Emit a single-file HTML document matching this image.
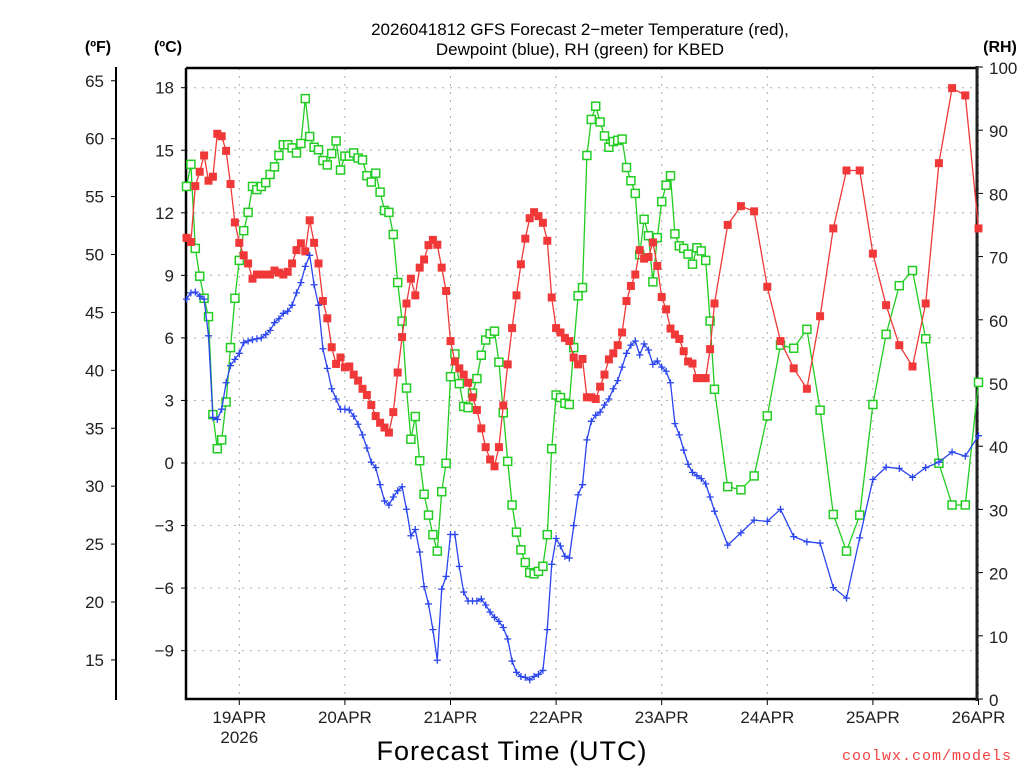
<!DOCTYPE html>
<html><head><meta charset="utf-8"><style>
html,body{margin:0;padding:0;background:#fff;}
svg{display:block;font-family:"Liberation Sans","DejaVu Sans",sans-serif;}
</style></head><body>
<svg id="chart" width="1024" height="768" viewBox="0 0 1024 768" xmlns="http://www.w3.org/2000/svg">
<rect width="1024" height="768" fill="#fff"/>
<text x="580" y="35" font-size="17" text-anchor="middle" fill="#000">2026041812 GFS Forecast 2−meter Temperature (red),</text>
<text x="580" y="55" font-size="17" text-anchor="middle" fill="#000">Dewpoint (blue), RH (green) for KBED</text>
<text x="98" y="52" font-size="16" font-weight="bold" text-anchor="middle">(ºF)</text>
<text x="168" y="52" font-size="16" font-weight="bold" text-anchor="middle">(ºC)</text>
<text x="1000" y="52" font-size="16" font-weight="bold" text-anchor="middle">(RH)</text>
<text x="512" y="760" font-size="27" text-anchor="middle" letter-spacing="1">Forecast Time (UTC)</text>
<text x="1012" y="760" font-size="15" text-anchor="end" fill="#f04040" font-family="Liberation Mono, monospace" letter-spacing="1">coolwx.com/models</text>
<g id="grid"></g><g id="axes"></g><g id="series"></g>
</svg>
<script>
const tempHours = [];
const temp = [10.8,10.6,13.28,13.97,14.75,13.54,13.73,15.79,15.67,14.97,13.38,11.54,10.56,9.96,9.57,8.84,9.04,9.04,9.04,9.04,9.23,9.13,9.04,9.17,9.57,10.21,10.54,10.15,11.64,10.56,9.57,7.77,6.94,5.55,4.75,5.06,4.59,4.63,4.24,3.95,3.56,3.26,2.78,2.25,1.93,1.70,1.46,2.44,4.34,6.04,7.65,8.84,8.04,9.37,9.76,10.45,10.70,10.47,9.37,8.25,5.85,4.87,4.54,4.24,3.85,3.15,2.54,1.66,0.76,0.17,-0.16,0.76,2.76,4.73,6.47,8.04,9.53,10.76,11.74,12.03,11.84,11.52,10.66,7.94,6.47,6.26,6.00,5.85,5.06,4.73,4.99,3.15,3.15,3.07,3.66,4.24,4.97,5.26,5.65,6.26,7.77,8.49,9.04,10.21,9.80,9.88,10.58,9.45,7.96,7.37,6.45,6.16,5.95,5.36,4.87,4.77,4.07,4.07,4.07,5.46,7.65,
11.42,12.32,12.07,8.45,5.85,4.54,3.56,7.04,11.25,14.03,14.03,10.04,7.57,5.65,4.63,7.65,14.38,17.98,17.63,11.25];
const dewp = [7.86,8.16,8.20,8.0,7.86,6.10,2.19,2.09,2.58,3.85,4.67,4.97,5.26,5.77,5.85,5.91,5.96,6.0,6.16,6.36,6.73,6.92,7.18,7.28,7.57,8.16,8.65,9.43,9.96,8.55,7.57,5.48,4.54,3.56,3.07,2.58,2.58,2.54,2.25,1.86,1.35,0.72,0.04,-0.22,-1.04,-1.82,-2.02,-1.63,-1.33,-1.14,-2.22,-3.49,-3.19,-4.27,-5.93,-6.76,-7.99,-9.46,-6.05,-5.44,-3.43,-3.43,-4.96,-6.19,-6.62,-6.62,-6.62,-6.52,-6.81,-7.15,-7.40,-7.60,-7.89,-8.44,-9.50,-10.04,-10.24,-10.28,-10.40,-10.24,-10.14,-9.95,-7.99,-4.86,-3.62,-3.98,-4.47,-4.56,-3.0,-1.53,-1.04,1.11,2.0,2.29,2.44,2.78,3.07,3.56,3.95,4.60,5.26,5.65,5.85,5.18,5.71,5.42,4.73,4.89,4.60,4.40,3.85,1.89,1.35,0.62,-0.06,-0.45,-0.61,-0.75,-1.0,-1.63,-2.31,
-3.94,-3.35,-2.74,-2.80,-2.22,-3.53,-3.78,-3.84,-5.97,-6.48,-3.59,-0.79,-0.20,-0.26,-0.69,-0.22,0.04,0.53,0.33,1.31];
const rh = [81.1,84.6,71.3,66.9,63.4,60.5,45.0,39.6,41.0,47.0,55.6,63.4,69.4,74.1,77.0,81.1,80.6,81.1,81.7,83.0,84.2,86.0,87.7,87.7,87.2,86.4,87.9,95.0,89.0,87.3,86.9,85.2,84.5,86.3,88.3,83.7,85.9,85.9,86.4,85.6,85.3,82.8,81.8,83.2,80.2,77.3,77.0,73.5,65.9,59.8,49.2,41.1,44.7,37.7,32.4,29.1,26.0,23.4,32.8,37.3,51.0,54.6,49.9,46.3,46.1,48.4,50.7,54.4,56.8,57.8,58.2,53.3,45.3,37.6,30.7,26.4,23.6,21.6,20.0,19.8,20.2,21.0,26.0,39.6,48.1,47.7,46.8,46.6,55.6,63.8,65.1,86.0,91.7,93.8,91.3,89.1,87.3,88.2,88.4,88.6,84.1,82.0,80.0,70.3,75.9,73.3,66.0,73.0,78.7,81.3,82.8,73.6,71.7,71.3,70.4,68.8,71.4,70.9,69.4,59.8,49.0,
33.6,33.1,35.3,44.8,56.0,55.5,58.5,45.7,29.2,23.4,29.1,46.6,57.7,65.4,67.8,57.0,37.3,30.7,30.7,50.1];
const dayLabels = ["19APR","20APR","21APR","22APR","23APR","24APR","25APR","26APR"];
const cTicks = [18,15,12,9,6,3,0,-3,-6,-9];
const fTicks = [65,60,55,50,45,40,35,30,25,20,15];
const rhTicks = [0,10,20,30,40,50,60,70,80,90,100];

for (let i = 0; i < temp.length; i++) tempHours.push(i <= 120 ? i : 120 + (i - 120) * 3);

const NS = "http://www.w3.org/2000/svg";
const L = 186, R = 977, T = 68, B = 699;
const xH = h => L + 0.5 + h * (R - L + 1) / 180;
const yC = c => 463 - c * 20.85;
const yF = f => yC((f - 32) / 1.8);
const yRH = r => B - r * 6.32;
function mk(tag, attrs, parent) { const e = document.createElementNS(NS, tag); for (const k in attrs) e.setAttribute(k, attrs[k]); parent.appendChild(e); return e; }
const grid = document.getElementById('grid'), axes = document.getElementById('axes'), ser = document.getElementById('series');

cTicks.forEach(c => {
  const g = mk('line', {x1: L, x2: R, y1: yC(c), y2: yC(c), stroke: '#aaa', 'stroke-dasharray': '2,6'}, grid);
  
  
  mk('line', {x1: L - 5, x2: L, y1: yC(c), y2: yC(c), stroke: '#000'}, axes);
  const t = mk('text', {x: L - 12, y: yC(c) + 6, 'font-size': 17, 'text-anchor': 'end', fill: '#222'}, axes);
  t.textContent = c < 0 ? '−' + (-c) : String(c);
  
  
});
dayLabels.forEach((d, i) => {
  const x = xH(12 + 24 * i);
  const g = mk('line', {x1: x, x2: x, y1: T, y2: B, stroke: '#aaa', 'stroke-dasharray': '2,6'}, grid);
  
  
  mk('line', {x1: x, x2: x, y1: B, y2: B + 6, stroke: '#000'}, axes);
  const t = mk('text', {x: x, y: 723, 'font-size': 17, 'text-anchor': 'middle', fill: '#222'}, axes);
  t.textContent = d;
  
  
});
const yr = mk('text', {x: xH(12), y: 743, 'font-size': 17, 'text-anchor': 'middle', fill: '#222'}, axes);
yr.textContent = '2026';



const fa = mk('line', {x1: 116, x2: 116, y1: 67, y2: 700, stroke: '#000', 'stroke-width': 2}, axes);


fTicks.forEach(f => {
  mk('line', {x1: 111, x2: 116, y1: yF(f), y2: yF(f), stroke: '#000'}, axes);
  const t = mk('text', {x: 104, y: yF(f) + 6, 'font-size': 17, 'text-anchor': 'end', fill: '#222'}, axes);
  t.textContent = f;
  
  
});
rhTicks.forEach(r => {
  mk('line', {x1: R, x2: R + 6, y1: yRH(r), y2: yRH(r), stroke: '#000'}, axes);
  const t = mk('text', {x: 989, y: yRH(r) + 7, 'font-size': 17, fill: '#222'}, axes);
  t.textContent = r;
  
  
});
const frame = mk('path', {d: `M${L},${T} H${R} M${L},${T} V${B} H${R}`, fill: 'none', stroke: '#000', 'stroke-width': 2.5}, axes);


const ra = mk('line', {x1: R, x2: R, y1: T - 2, y2: B + 2, stroke: '#222', 'stroke-width': 3}, axes);



function series(vals, yf, color, name, marker) {
  const pts = vals.map((v, i) => [xH(tempHours[i]), yf(v)]);
  const p = mk('polyline', {points: pts.map(q => q.join(',')).join(' '), fill: 'none', stroke: color, 'stroke-width': 1.3}, ser);
  
  
  pts.forEach(([x, y]) => {
    let m;
    if (marker === 'fill') m = mk('rect', {x: x - 4, y: y - 4, width: 8, height: 8, fill: color}, ser);
    else if (marker === 'open') m = mk('rect', {x: x - 4, y: y - 4, width: 8, height: 8, fill: '#fff', stroke: color, 'stroke-width': 1.5}, ser);
    else m = mk('path', {d: `M${x - 3.5},${y} H${x + 3.5} M${x},${y - 3.5} V${y + 3.5}`, stroke: color, 'stroke-width': 1.3}, ser);
    
    
  });
}
series(rh, yRH, '#22cc22', 'rh', 'open');
series(temp, yC, '#f03838', 'temperature', 'fill');
series(dewp, yC, '#2a44f0', 'dewpoint', 'plus');
</script>
</body></html>
